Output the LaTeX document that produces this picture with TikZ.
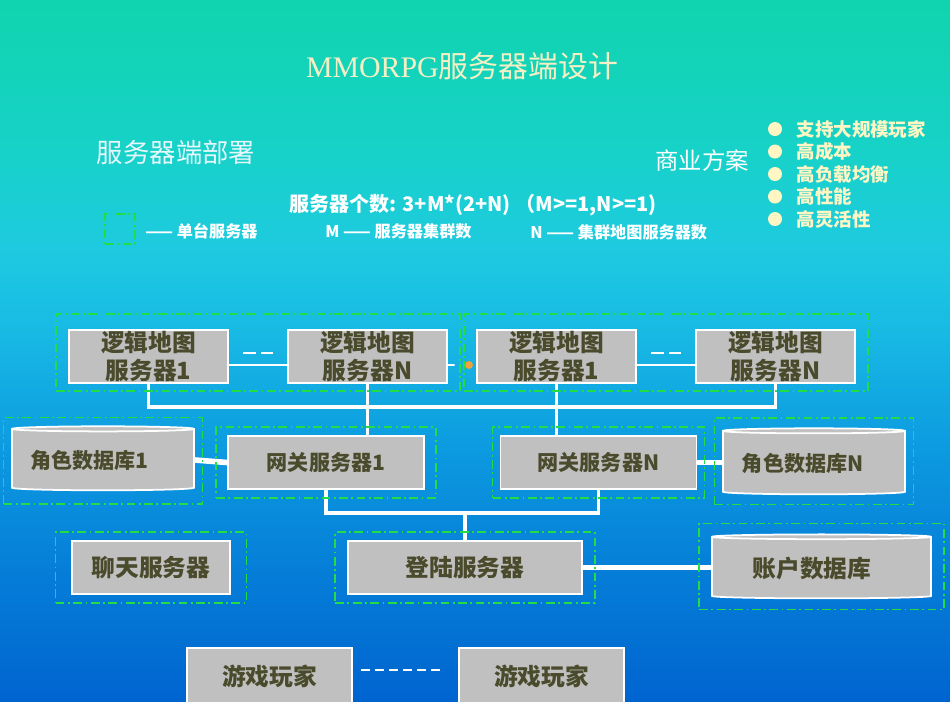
\documentclass[tikz,border=0pt]{standalone}
\usepackage{fontspec}
\setmainfont{Noto Sans CJK SC}
\newfontfamily\serifen{Liberation Serif}
\usepackage{tikz}
\usetikzlibrary{positioning,calc,shapes.geometric,fit}
\definecolor{cBoxFill}{HTML}{C0C0C0}
\definecolor{cBoxText}{HTML}{4A4A2C}
\definecolor{cGroup}{HTML}{22DD44}
\definecolor{cTitle}{HTML}{F4F0C4}
\definecolor{cItem}{HTML}{FFF6C4}
\definecolor{cDot}{HTML}{F0A040}
\definecolor{bgA}{HTML}{0064D0}
\definecolor{bgB}{HTML}{0680D8}
\definecolor{bgC}{HTML}{0C9AE0}
\definecolor{bgD}{HTML}{18BAE4}
\definecolor{bgE}{HTML}{1ECAE0}
\definecolor{bgF}{HTML}{17D2C8}
\definecolor{bgG}{HTML}{10D4AE}
\pgfdeclareverticalshading{bgfade}{100bp}{color(0bp)=(bgA); color(25bp)=(bgA);
  color(35bp)=(bgB); color(42.9bp)=(bgC); color(51.5bp)=(bgD); color(57.1bp)=(bgE);
  color(64.3bp)=(bgF); color(75bp)=(bgG); color(100bp)=(bgG)}
\tikzset{
  srv/.style={draw=white, line width=1pt, fill=cBoxFill, text=cBoxText, align=center,
              font=\bfseries\fontsize{13.5}{15.5}\selectfont, inner sep=0pt,
              minimum width=3.18cm, minimum height=1.06cm},
  db/.style={cylinder, shape border rotate=90, aspect=0.035, draw=white, line width=1pt,
             cylinder uses custom fill, cylinder body fill=cBoxFill, cylinder end fill=cBoxFill,
             text=cBoxText, font=\bfseries\fontsize{12}{14}\selectfont, inner sep=0pt},
  grp/.style={draw=cGroup, line width=0.8pt, dash pattern=on 5pt off 2pt on 1pt off 2pt, inner sep=0pt},
  link/.style={draw=white, line width=2.2pt},
  thin link/.style={draw=white, line width=1pt},
  fat link/.style={draw=white, line width=3.2pt},
  gap/.style={draw=white, line width=1pt, dash pattern=on 7pt off 3pt},
  note/.style={text=white, font=\bfseries\fontsize{9.2}{11}\selectfont, inner sep=0pt, anchor=west},
  bul/.style={circle, fill=cItem, inner sep=0pt, minimum size=0.28cm},
  item/.style={text=cItem, font=\bfseries\fontsize{10.5}{12}\selectfont, inner sep=0pt},
}
\begin{document}
\begin{tikzpicture}[x=0.02cm, y=-0.02cm]
  \shade[shading=bgfade] (0,0) rectangle (950,701);
  \useasboundingbox (0,0) rectangle (950,701);

  % headings
  \node[text=cTitle, font=\fontsize{17}{19}\selectfont] (title) at (462,66) {{\serifen MMORPG}服务器端设计};
  \node[text=white!90!cyan, font=\fontsize{15}{17}\selectfont] (deploy) at (176,152) {服务器端部署};
  \node[text=white, font=\fontsize{13.3}{15}\selectfont] (biz) at (702,161) {商业方案};
  \foreach \txt [count=\i] in {支持大规模玩家,高成本,高负载均衡,高性能,高灵活性} {
    \node[bul] (bul\i) at (775,{129+22.5*(\i-1)}) {};
    \node[item, right=0.28cm of bul\i] (item\i) {\txt};
  }
  \node[note, font=\bfseries\fontsize{11.4}{13}\selectfont] (count) at (289,205) {服务器个数: 3+M*(2+N) （M>=1,N>=1)};
  \node[grp, minimum size=0.6cm] (key) at (120,229) {};
  \node[note] (keyA) at (145,231) {—— 单台服务器};
  \node[note] (keyM) at (325,231) {M —— 服务器集群数};
  \node[note] (keyN) at (530,232) {N —— 集群地图服务器数};

  % servers
  \node[srv] (l1) at (148.5,356.5) {逻辑地图\\服务器1};
  \node[srv] (l2) at (367.5,356.5) {逻辑地图\\服务器N};
  \node[srv] (l3) at (556.5,356.5) {逻辑地图\\服务器1};
  \node[srv] (l4) at (775.5,356.5) {逻辑地图\\服务器N};
  \node[circle, fill=cDot, inner sep=0pt, minimum size=0.16cm] (dot) at (469,365) {};
  \node[srv, minimum width=3.92cm, font=\bfseries\fontsize{12}{14}\selectfont] (gw1) at (326,462.5) {网关服务器1};
  \node[srv, minimum width=3.92cm, font=\bfseries\fontsize{12}{14}\selectfont] (gwN) at (598.5,462.5) {网关服务器N};
  \node[db, minimum width=3.64cm, minimum height=1.28cm] (db1) at (103,460) {角色数据库1\hspace*{0.55cm}};
  \node[db, minimum width=3.64cm, minimum height=1.32cm] (dbN) at (814,463) {角色数据库N\hspace*{0.45cm}};
  \node[srv, minimum width=3.16cm] (chat) at (151,567.5) {聊天服务器};
  \node[srv, minimum width=4.68cm] (login) at (465,567.5) {登陆服务器};
  \node[db, minimum width=4.38cm, minimum height=1.28cm, font=\bfseries\fontsize{13.5}{15.5}\selectfont] (acct) at (821.5,568) {账户数据库\hspace*{0.38cm}};
  \node[srv, minimum width=3.3cm, minimum height=1.12cm] (p1) at (269.5,676) {游戏玩家};
  \node[srv, minimum width=3.3cm, minimum height=1.12cm] (p2) at (541.5,676) {游戏玩家};

  % connectors
  \draw[thin link] ($(l1.east)+(0,8.5)$) -- ($(l2.west)+(0,8.5)$);
  \draw[gap] ($(l1.east)!0.25!(l2.west)+(0,-3.5)$) -- ($(l1.east)!0.75!(l2.west)+(0,-3.5)$);
  \draw[thin link, shorten >=0.2cm] ($(l2.east)+(0,8.5)$) -- (dot);
  \draw[thin link] ($(l3.east)+(0,8.5)$) -- ($(l4.west)+(0,8.5)$);
  \draw[gap] ($(l3.east)!0.25!(l4.west)+(0,-3.5)$) -- ($(l3.east)!0.75!(l4.west)+(0,-3.5)$);
  \draw[link] (l1.south) -- ++(0,23) -| (l4.south);
  \draw[link] (l2.south) -- (l2.south |- gw1.north);
  \draw[link] (l3.south) -- (l3.south |- gwN.north);
  \draw[fat link] (db1.east) -- (gw1.west);
  \draw[fat link] (gwN.east) -- (gwN.east -| dbN.west);
  \draw[link] (gw1.south) -- ++(0,23) -| (gwN.south);
  \draw[link] (login.north) -- ++(0,-29);
  \draw[fat link] (login.east) -- (login.east -| acct.west);
  \draw[thin link, dash pattern=on 5pt off 3pt, shorten <=0.16cm, shorten >=0.32cm] ($(p1.east)+(0,-6)$) -- ($(p2.west)+(0,-6)$);

  % groups
  \node[grp, fit=(l1)(l2), inner xsep=0.24cm, inner ysep=0.22cm, yshift=0.08cm] (gmap1) {};
  \node[grp, fit=(l3)(l4), inner xsep=0.24cm, inner ysep=0.22cm, yshift=0.08cm] (gmap2) {};
  \node[grp, fit=(db1), inner xsep=0.15cm, inner ysep=0.21cm, yshift=-0.05cm] (gdb1) {};
  \node[grp, fit=(gw1), inner xsep=0.22cm, inner ysep=0.16cm] (ggw1) {};
  \node[grp, fit=(gwN), inner xsep=0.14cm, inner ysep=0.16cm] (ggwN) {};
  \node[grp, fit=(dbN), inner xsep=0.15cm, inner ysep=0.19cm] (gdbN) {};
  \node[grp, fit=(chat), inner xsep=0.31cm, inner ysep=0.16cm] (gchat) {};
  \node[grp, fit=(login), inner xsep=0.24cm, inner ysep=0.16cm] (glogin) {};
  \node[grp, fit=(acct), inner xsep=0.24cm, inner ysep=0.2cm] (gacct) {};
\end{tikzpicture}
\end{document}
